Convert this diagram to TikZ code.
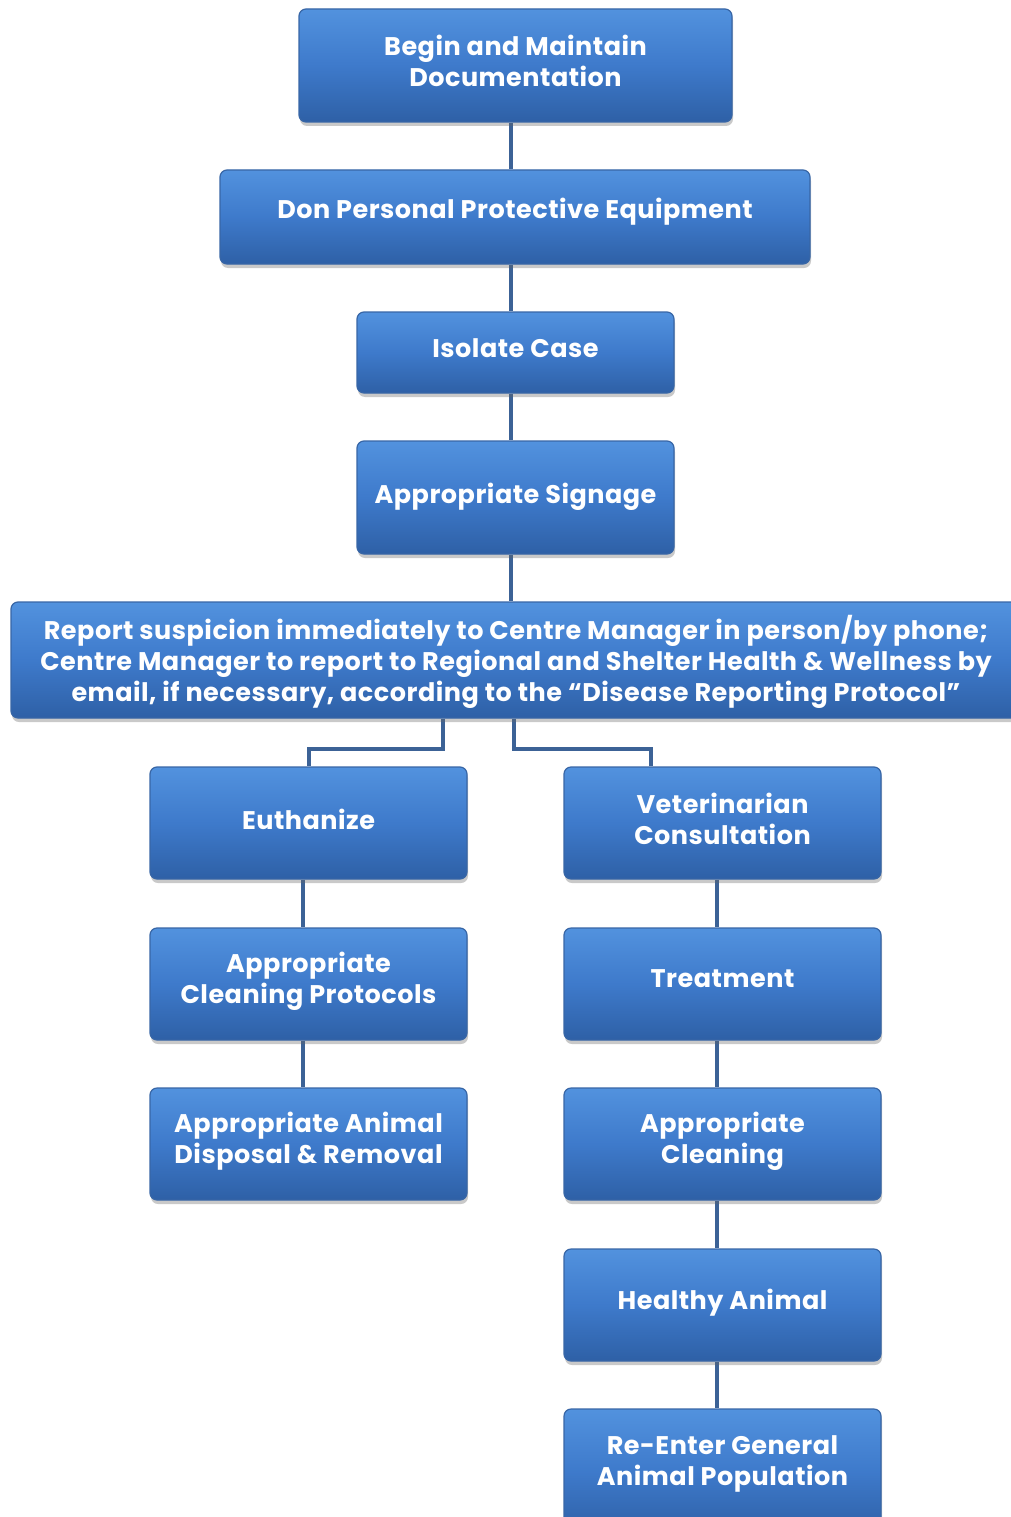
\documentclass[tikz,border=0pt]{standalone}
\usepackage{fontspec}
\setmainfont{Poppins}[LetterSpace=2]
\usetikzlibrary{shadows,backgrounds}
\definecolor{boxtop}{RGB}{82,146,222}
\definecolor{boxmid}{RGB}{62,122,203}
\definecolor{boxbot}{RGB}{46,96,166}
\definecolor{boxedge}{RGB}{56,102,166}
\definecolor{linkc}{RGB}{60,98,150}
\tikzset{
  box/.style={draw=boxedge, line width=1.2pt, rounded corners=7pt,
    top color=boxtop, bottom color=boxbot, middle color=boxmid,
    drop shadow={shadow xshift=1pt, shadow yshift=-4pt, opacity=0.35, fill=black!60},
    inner sep=0pt},
  boxtext/.style={text=white, align=center, inner sep=0pt,
    font=\fontsize{25.5}{31}\selectfont\bfseries},
  link/.style={draw=linkc, line width=4pt}
}
\begin{document}
\begin{tikzpicture}[x=1pt,y=-1pt]
\useasboundingbox (0,0) rectangle (1010,1517);
\begin{scope}[on background layer]
\fill[white] (0,0) rectangle (1010,1517);
\end{scope}
\node[box, minimum width=433, minimum height=113] (n1) at (515.5,65.5) {};
\node[box, minimum width=590, minimum height=94] (n2) at (515,217) {};
\node[box, minimum width=317, minimum height=81] (n3) at (515.5,352.5) {};
\node[box, minimum width=317, minimum height=113] (n4) at (515.5,497.5) {};
\node[box, minimum width=1010, minimum height=116] (n5) at (516,660) {};
\node[box, minimum width=317, minimum height=112] (n6) at (308.5,823) {};
\node[box, minimum width=317, minimum height=112] (n7) at (722.5,823) {};
\node[box, minimum width=317, minimum height=112] (n8) at (308.5,984) {};
\node[box, minimum width=317, minimum height=112] (n9) at (722.5,984) {};
\node[box, minimum width=317, minimum height=112] (n10) at (308.5,1144) {};
\node[box, minimum width=317, minimum height=112] (n11) at (722.5,1144) {};
\node[box, minimum width=317, minimum height=112] (n12) at (722.5,1305) {};
\node[box, minimum width=317, minimum height=125] (n13) at (722.5,1471.5) {};
\node[boxtext] (t1) at ([yshift=5pt]n1.center) {Begin and Maintain\\Documentation};
\node[boxtext] (t2) at ([yshift=5pt]n2.center) {Don Personal Protective Equipment};
\node[boxtext] (t3) at ([yshift=4pt]n3.center) {Isolate Case};
\node[boxtext] (t4) at ([yshift=1pt]n4.center) {Appropriate Signage};
\node[boxtext] (t5) at ([yshift=-2pt]n5.center) {Report suspicion immediately to Centre Manager in person/by phone;\\Centre Manager to report to Regional and Shelter Health \& Wellness by\\email, if necessary, according to the “Disease Reporting Protocol”};
\node[boxtext] (t6) at ([yshift=4pt]n6.center) {Euthanize};
\node[boxtext] (t7) at ([yshift=4pt]n7.center) {Veterinarian\\Consultation};
\node[boxtext] (t8) at ([yshift=3pt]n8.center) {Appropriate\\Cleaning Protocols};
\node[boxtext] (t9) at ([yshift=5pt]n9.center) {Treatment};
\node[boxtext] (t10) at ([yshift=3pt]n10.center) {Appropriate Animal\\Disposal \& Removal};
\node[boxtext] (t11) at ([yshift=3pt]n11.center) {Appropriate\\Cleaning};
\node[boxtext] (t12) at ([yshift=2pt]n12.center) {Healthy Animal};
\node[boxtext] (t13) at ([yshift=8pt]n13.center) {Re-Enter General\\Animal Population};
\begin{scope}[on background layer]
\draw[link] ([xshift=-4.5pt]n1.south) -- ([xshift=-4pt]n2.north);
\draw[link] ([xshift=-4pt]n2.south) -- ([xshift=-4.5pt]n3.north);
\draw[link] ([xshift=-4.5pt]n3.south) -- ([xshift=-4.5pt]n4.north);
\draw[link] ([xshift=-4.5pt]n4.south) -- ([xshift=-5pt]n5.north);
\draw[link] ([xshift=-73pt]n5.south) -- ++(0,30) -| (n6.north);
\draw[link] ([xshift=-2pt]n5.south) -- ++(0,30) -| ([xshift=-71.5pt]n7.north);
\draw[link] ([xshift=-5.5pt]n6.south) -- ([xshift=-5.5pt]n8.north);
\draw[link] ([xshift=-5.5pt]n8.south) -- ([xshift=-5.5pt]n10.north);
\draw[link] ([xshift=-5.5pt]n7.south) -- ([xshift=-5.5pt]n9.north);
\draw[link] ([xshift=-5.5pt]n9.south) -- ([xshift=-5.5pt]n11.north);
\draw[link] ([xshift=-5.5pt]n11.south) -- ([xshift=-5.5pt]n12.north);
\draw[link] ([xshift=-5.5pt]n12.south) -- ([xshift=-5.5pt]n13.north);
\end{scope}
\end{tikzpicture}
\end{document}
